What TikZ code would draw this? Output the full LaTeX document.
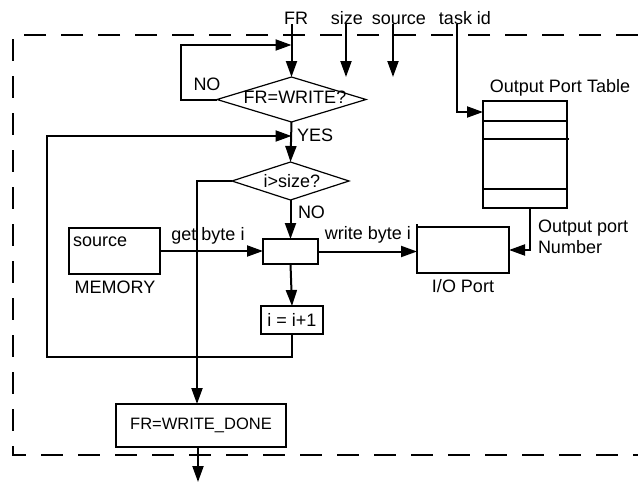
\documentclass[tikz,border=0pt]{standalone}
\usepackage{fontspec}
\setmainfont{Liberation Sans}
\usetikzlibrary{arrows.meta,shapes.geometric}
\begin{document}
\begin{tikzpicture}[x=1pt,y=-1pt,
  every node/.style={font=\fontsize{18}{21}\selectfont, inner sep=0pt, outer sep=0pt},
  ln/.style={line width=2pt},
  arr/.style={line width=2pt,-{Triangle[length=16pt,width=11pt]}},
  box/.style={draw,line width=2pt,rectangle,inner sep=0pt},
  dia/.style={draw,line width=1.2pt,diamond,inner sep=0pt},
  lbl/.style={anchor=base},
  lblw/.style={anchor=base west},
  frame/.style={line width=2pt,dash pattern=on 22pt off 15pt}
]
\fill[white] (0,0) rectangle (638,483);
\useasboundingbox (0,0) rectangle (638,483);
\draw[frame] (638,35) -- (13,35) -- (13,455) -- (638,455);

% top inputs
\node[lbl] (fr) at (296,24) {FR};
\node[lbl] (sz) at (347,24) {size};
\node[lbl] (src) at (399,24) {source};
\node[lbl] (tid) at (465,24) {task id};
\coordinate (szend) at (346,77);
\coordinate (srcend) at (393,77);

% decisions
\node[dia, minimum width=149pt, minimum height=45pt] (d1) at (291.5,99.5) {};
\node[lbl] (d1t) at (295,103) {FR=WRITE?};
\node[dia, minimum width=117pt, minimum height=38pt] (d2) at (290.5,181) {};
\node[lbl] (d2t) at (292,187) {i>size?};

% boxes
\node[box, minimum width=91pt, minimum height=46pt] (mem) at (114.5,251) {};
\node[lblw] (memt) at (73,246) {source};
\node[lbl] (meml) at (115,293) {MEMORY};
\node[box, minimum width=55pt, minimum height=25pt] (sb) at (290.5,251.5) {};
\node[box, minimum width=62pt, minimum height=28pt] (inc) at (292,320) {i = i+1};
\node[box, minimum width=92pt, minimum height=46pt] (io) at (463,250) {};
\draw[ln] (io.north west) -- ++(0,-3);
\node[lbl] (iol) at (463,292) {I/O Port};
\node[box, minimum width=84pt, minimum height=107pt] (tbl) at (525,154.5) {};
\draw[ln] (483,121) -- (567,121);
\draw[ln] (483,139) -- (569,139);
\draw[ln] (483,189) -- (567,189);
\node[lbl] (tblt) at (560,92) {Output Port Table};
\node[box, minimum width=170pt, minimum height=43pt, font=\fontsize{16.5}{20}\selectfont] (done) at (201,425.5) {FR=WRITE\_DONE};

% labels
\node[lbl] (no1) at (207,90) {NO};
\node[lblw] (yes) at (297,141) {YES};
\node[lblw] (no2) at (298,218) {NO};
\node[lbl] (gb) at (208,240) {get byte i};
\node[lbl] (wb) at (368,239) {write byte i};
\node[lblw] (op1) at (538,232) {Output port};
\node[lblw] (op2) at (538,253) {Number};

% connectors
\coordinate (noend) at (291.5,45);
\coordinate (loopend) at (291.5,136);
\coordinate (outend) at (198,482);
\draw[arr] (fr.south -| d1.north) -- (d1.north);
\draw[arr] (sz.south -| szend) -- (szend);
\draw[arr] (src.south -| srcend) -- (srcend);
\draw[arr] ([xshift=-8pt]tid.south) |- ([yshift=-11pt]tbl.north west);
\draw[arr] (d1.west) -| (181,45) -- (noend);
\draw[arr] (d1.south) -- (d2.north);
\draw[arr] (inc.south) -- ++(0,23) -| (47,136) -- (loopend);
\draw[arr] (d2.west) -| ([xshift=-4pt]done.north);
\draw[arr] (d2.south) -- (sb.north);
\draw[arr] (mem.east) -- (mem.east -| sb.west);
\draw[arr] (sb.east) -- (sb.east -| io.west);
\draw[arr] (sb.south) -- (inc.north);
\draw[arr] ([xshift=5pt]tbl.south) |- (io.east);
\draw[arr] ([xshift=-3pt]done.south) -- (outend);
\end{tikzpicture}
\end{document}
